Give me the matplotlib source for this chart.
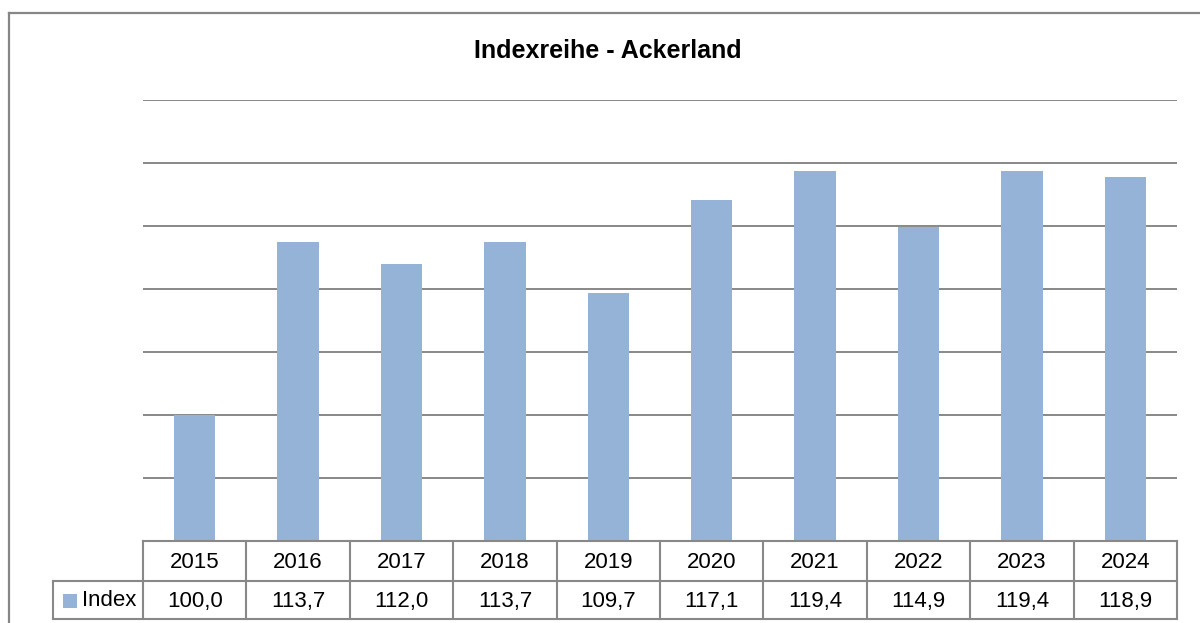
import matplotlib
matplotlib.use("Agg")
import matplotlib.pyplot as plt
from matplotlib.transforms import blended_transform_factory
from matplotlib.lines import Line2D
from matplotlib.patches import Rectangle

years = ["2015", "2016", "2017", "2018", "2019", "2020", "2021", "2022", "2023", "2024"]
index_values = [100.0, 113.7, 112.0, 113.7, 109.7, 117.1, 119.4, 114.9, 119.4, 118.9]
series_name = "Index"
title = "Indexreihe - Ackerland"

FONT = ["Liberation Sans", "DejaVu Sans"]
BAR_COLOR = "#95B3D7"
LINE_COLOR = "#888888"

W, H = 1200, 623
fig = plt.figure(figsize=(W / 100, H / 100), dpi=100)

left, right, top, bottom = 143, 1177, 100, 541
ax = fig.add_axes([left / W, 1 - bottom / H, (right - left) / W, (bottom - top) / H])

x = list(range(len(years)))
ax.bar(x, index_values, width=0.4, color=BAR_COLOR, zorder=3)
ax.set_xlim(-0.5, len(years) - 0.5)
ax.set_ylim(90, 125)
ax.set_yticks([95, 100, 105, 110, 115, 120, 125])
ax.yaxis.grid(True, color=LINE_COLOR, linewidth=1.4, zorder=1)
ax.set_xticks([])
ax.tick_params(axis="y", length=0, labelleft=False)
for s in ["left", "right", "top", "bottom"]:
    ax.spines[s].set_visible(False)

fig.text(608 / W, 1 - 51 / H, title, ha="center", va="center",
         fontsize=18, fontweight="bold", family=FONT)

# data table below the axis
tr = blended_transform_factory(ax.transData, ax.transAxes)
ah = bottom - top
r1 = -40 / ah
r2 = -78 / ah
leg_left = -0.5 - 90 / ((right - left) / len(years))
lw = 1.5
kw = dict(color=LINE_COLOR, linewidth=lw, transform=tr, clip_on=False, zorder=5)
n = len(years)
ax.plot([-0.5, n - 0.5], [0, 0], **kw)
ax.plot([leg_left, n - 0.5], [r1, r1], **kw)
ax.plot([leg_left, n - 0.5], [r2, r2], **kw)
for i in range(n + 1):
    ax.plot([i - 0.5, i - 0.5], [0, r2], **kw)
ax.plot([leg_left, leg_left], [r1, r2], **kw)

FS = 16
for i, (yr, v) in enumerate(zip(years, index_values)):
    ax.text(i, r1 / 2 - 2 / ah, yr, ha="center", va="center", fontsize=FS,
            family=FONT, transform=tr, clip_on=False)
    ax.text(i, (r1 + r2) / 2 - 1 / ah, f"{v:.1f}".replace(".", ","), ha="center",
            va="center", fontsize=FS, family=FONT, transform=tr, clip_on=False)

px = (right - left) / n
sq = Rectangle((leg_left + 10 / px, (r1 + r2) / 2 - 7.5 / ah), 14 / px, 14 / ah,
               transform=tr, facecolor=BAR_COLOR, edgecolor="none", clip_on=False)
ax.add_patch(sq)
ax.text(leg_left + 29 / px, (r1 + r2) / 2 - 1 / ah, series_name, ha="left", va="center",
        fontsize=FS, family=FONT, transform=tr, clip_on=False)

# outer chart frame (partially visible)
fig.add_artist(Line2D([9 / W, 1.0], [1 - 13 / H, 1 - 13 / H], color="#868686",
                      linewidth=1.6, transform=fig.transFigure))
fig.add_artist(Line2D([9 / W, 9 / W], [0, 1 - 13 / H], color="#868686",
                      linewidth=1.6, transform=fig.transFigure))

fig.savefig("out.png", dpi=100, facecolor="white")
